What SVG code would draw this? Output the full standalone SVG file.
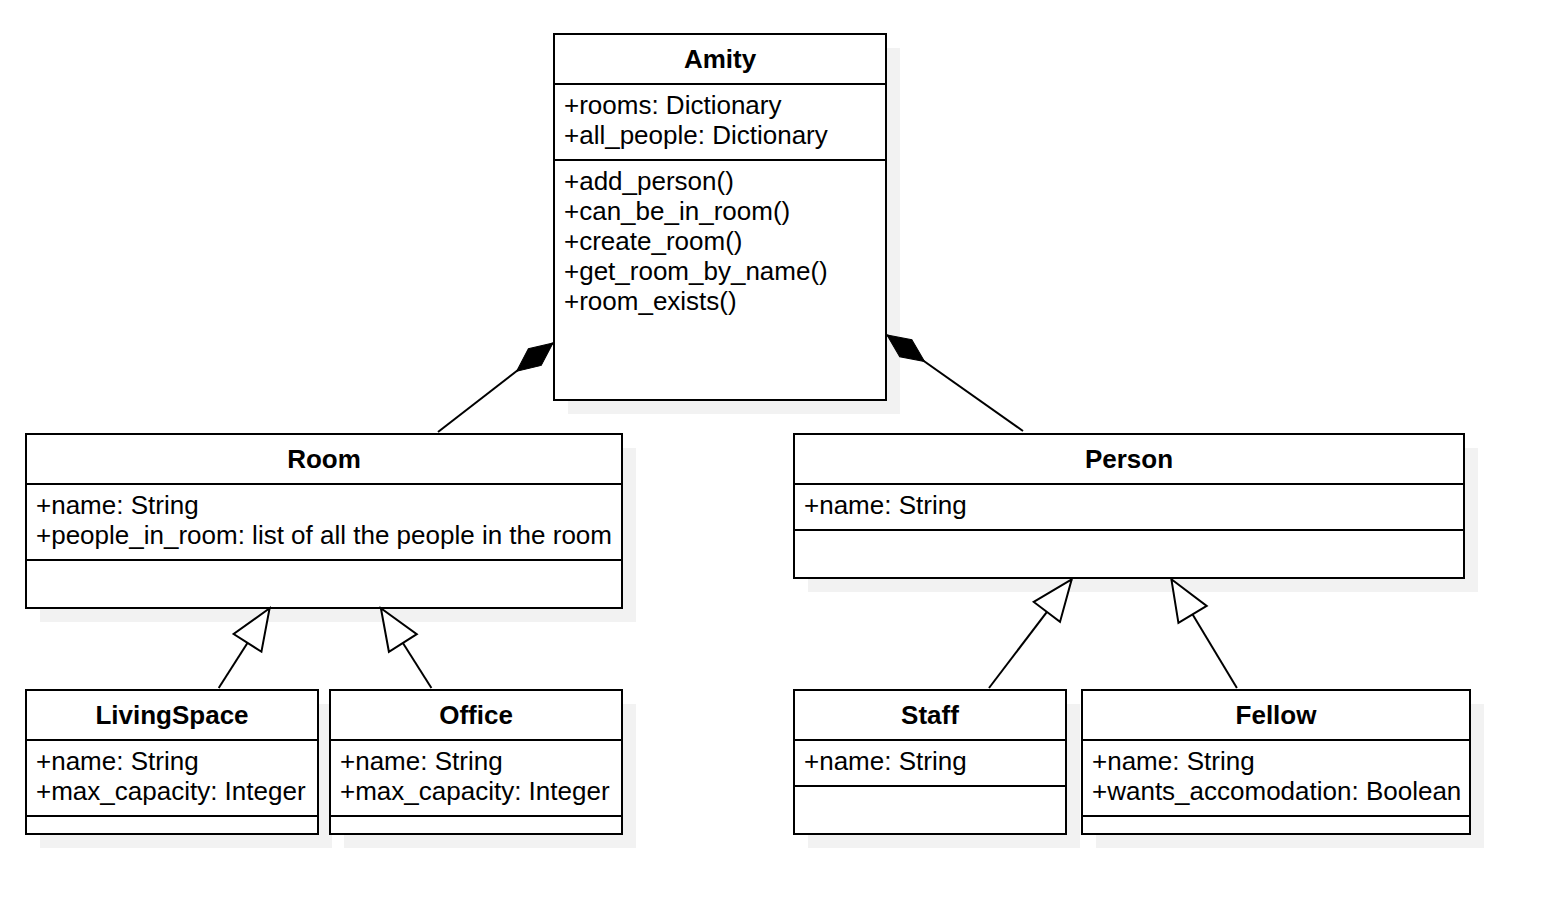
<svg xmlns="http://www.w3.org/2000/svg" width="1544" height="900" viewBox="0 0 1544 900">
<style>
.shadow{fill:#f2f2f2;stroke:none}
.box{fill:#ffffff;stroke:#000000;stroke-width:2}
.div{stroke:#000000;stroke-width:2;fill:none}
.title{font-family:"Liberation Sans",Arial,sans-serif;font-size:26px;font-weight:bold;text-anchor:middle;fill:#000}
.txt{font-family:"Liberation Sans",Arial,sans-serif;font-size:26px;fill:#000}
.edge{stroke:#000000;stroke-width:2;fill:none}
</style>
<defs>
<marker id="diamond" markerUnits="userSpaceOnUse" markerWidth="60" markerHeight="30" refX="0" refY="0" viewBox="-50 -15 60 30" orient="auto" overflow="visible">
<path d="M0,0 L-23,-10.5 L-46,0 L-23,10.5 Z" fill="#000" stroke="#000" stroke-width="1"/>
</marker>
<marker id="tri" markerUnits="userSpaceOnUse" markerWidth="50" markerHeight="40" refX="0" refY="0" viewBox="-45 -20 50 40" orient="auto" overflow="visible">
<path d="M0,0 L-41,-16.5 L-41,16.5 Z" fill="#fff" stroke="#000" stroke-width="2"/>
</marker>
</defs>
<rect width="1544" height="900" fill="#ffffff"/>

<g id="Amity">
<rect class="shadow" x="568" y="48" width="332" height="366"/>
<rect class="box" x="554" y="34" width="332" height="366"/>
<line class="div" x1="554" y1="84" x2="886" y2="84"/>
<line class="div" x1="554" y1="160" x2="886" y2="160"/>
<text class="title" x="720" y="68">Amity</text>
<text class="txt" x="564" y="114">+rooms: Dictionary</text>
<text class="txt" x="564" y="144">+all_people: Dictionary</text>
<text class="txt" x="564" y="190">+add_person()</text>
<text class="txt" x="564" y="220">+can_be_in_room()</text>
<text class="txt" x="564" y="250">+create_room()</text>
<text class="txt" x="564" y="280">+get_room_by_name()</text>
<text class="txt" x="564" y="310">+room_exists()</text>
</g>

<g id="Room">
<rect class="shadow" x="40" y="448" width="596" height="174"/>
<rect class="box" x="26" y="434" width="596" height="174"/>
<line class="div" x1="26" y1="484" x2="622" y2="484"/>
<line class="div" x1="26" y1="560" x2="622" y2="560"/>
<text class="title" x="324" y="468">Room</text>
<text class="txt" x="36" y="514">+name: String</text>
<text class="txt" x="36" y="544">+people_in_room: list of all the people in the room</text>
</g>

<g id="Person">
<rect class="shadow" x="808" y="448" width="670" height="144"/>
<rect class="box" x="794" y="434" width="670" height="144"/>
<line class="div" x1="794" y1="484" x2="1464" y2="484"/>
<line class="div" x1="794" y1="530" x2="1464" y2="530"/>
<text class="title" x="1129" y="468">Person</text>
<text class="txt" x="804" y="514">+name: String</text>
</g>

<g id="LivingSpace">
<rect class="shadow" x="40" y="704" width="292" height="144"/>
<rect class="box" x="26" y="690" width="292" height="144"/>
<line class="div" x1="26" y1="740" x2="318" y2="740"/>
<line class="div" x1="26" y1="816" x2="318" y2="816"/>
<text class="title" x="172" y="724">LivingSpace</text>
<text class="txt" x="36" y="770">+name: String</text>
<text class="txt" x="36" y="800">+max_capacity: Integer</text>
</g>

<g id="Office">
<rect class="shadow" x="344" y="704" width="292" height="144"/>
<rect class="box" x="330" y="690" width="292" height="144"/>
<line class="div" x1="330" y1="740" x2="622" y2="740"/>
<line class="div" x1="330" y1="816" x2="622" y2="816"/>
<text class="title" x="476" y="724">Office</text>
<text class="txt" x="340" y="770">+name: String</text>
<text class="txt" x="340" y="800">+max_capacity: Integer</text>
</g>

<g id="Staff">
<rect class="shadow" x="808" y="704" width="272" height="144"/>
<rect class="box" x="794" y="690" width="272" height="144"/>
<line class="div" x1="794" y1="740" x2="1066" y2="740"/>
<line class="div" x1="794" y1="786" x2="1066" y2="786"/>
<text class="title" x="930" y="724">Staff</text>
<text class="txt" x="804" y="770">+name: String</text>
</g>

<g id="Fellow">
<rect class="shadow" x="1096" y="704" width="388" height="144"/>
<rect class="box" x="1082" y="690" width="388" height="144"/>
<line class="div" x1="1082" y1="740" x2="1470" y2="740"/>
<line class="div" x1="1082" y1="816" x2="1470" y2="816"/>
<text class="title" x="1276" y="724">Fellow</text>
<text class="txt" x="1092" y="770">+name: String</text>
<text class="txt" x="1092" y="800">+wants_accomodation: Boolean</text>
</g>

<g id="connectors">
<path class="edge" d="M438,432 L553,343" marker-end="url(#diamond)"/>
<path class="edge" d="M1023,431 L887,335" marker-end="url(#diamond)"/>
<path class="edge" d="M218.7,688 L269.6,608.3" marker-end="url(#tri)"/>
<path class="edge" d="M431.4,688 L380.9,608.3" marker-end="url(#tri)"/>
<path class="edge" d="M989,688 L1071.7,579.3" marker-end="url(#tri)"/>
<path class="edge" d="M1236.9,688 L1171.4,579.3" marker-end="url(#tri)"/>
</g>
</svg>
